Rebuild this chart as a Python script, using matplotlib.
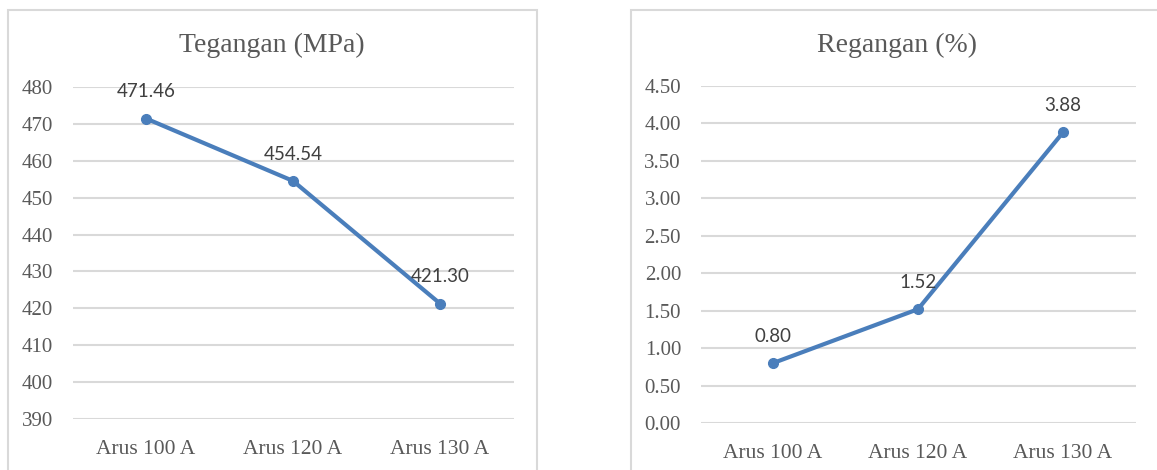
import matplotlib.pyplot as plt
from matplotlib.patches import Rectangle

# Data
kategori = ['Arus 100 A', 'Arus 120 A', 'Arus 130 A']
tegangan = [471.46, 454.54, 421.30]
regangan = [0.80, 1.52, 3.88]
yticks_tegangan = [390, 400, 410, 420, 430, 440, 450, 460, 470, 480]
ylabel_tegangan = ['390', '400', '410', '420', '430', '440', '450', '460', '470', '480']
yticks_regangan = [0.0, 0.5, 1.0, 1.5, 2.0, 2.5, 3.0, 3.5, 4.0, 4.5]
ylabel_regangan = ['0.00', '0.50', '1.00', '1.50', '2.00', '2.50', '3.00', '3.50', '4.00', '4.50']

warna = '#4A7EBB'
serif = 'Liberation Serif'

fig = plt.figure(figsize=(11.57, 4.70), dpi=100)

# bingkai panel
W, H = 1157, 470
fig.add_artist(Rectangle((8 / W, -0.05), 529 / W, 1.05 - 10 / H, transform=fig.transFigure,
                         fill=False, edgecolor='#d9d9d9', linewidth=1.5))
fig.add_artist(Rectangle((631 / W, -0.05), 0.5, 1.05 - 10 / H, transform=fig.transFigure,
                         fill=False, edgecolor='#d9d9d9', linewidth=1.5))

ax1 = fig.add_axes([72.5 / W, 1 - 419 / H, 441 / W, 332 / H])
ax2 = fig.add_axes([700.5 / W, 1 - 423 / H, 435 / W, 337 / H])


def gambar(ax, nilai, yticks, ylabels, judul, judul_x):
    x = list(range(len(kategori)))
    ax.plot(x, nilai, color=warna, linewidth=3, marker='o', markersize=7, zorder=3,
            solid_capstyle='round')
    for xi, v in zip(x, nilai):
        ax.annotate('{:.2f}'.format(v), (xi, v), xytext=(0, 13), textcoords='offset points',
                    ha='center', va='bottom', fontsize=13.5, color='#404040', family='Lato')
    ax.set_xlim(-0.5, 2.5)
    ax.set_ylim(yticks[0], yticks[-1])
    ax.set_yticks(yticks)
    ax.set_yticklabels(ylabels)
    ax.set_xticks(x)
    ax.set_xticklabels(kategori)
    ax.grid(axis='y', color='#d9d9d9', linewidth=1.5)
    ax.set_axisbelow(True)
    for s in ax.spines.values():
        s.set_visible(False)
    ax.tick_params(length=0)
    ax.tick_params(axis='y', labelsize=15, labelcolor='#595959', pad=14)
    ax.tick_params(axis='x', labelsize=15.5, labelcolor='#595959', pad=15)
    for lbl in ax.get_yticklabels() + ax.get_xticklabels():
        lbl.set_family(serif)
    fig.text(judul_x, 1 - 45 / H, judul, ha='center', va='center', fontsize=20,
             color='#595959', family=serif)


gambar(ax1, tegangan, yticks_tegangan, ylabel_tegangan, 'Tegangan (MPa)', 272 / W)
gambar(ax2, regangan, yticks_regangan, ylabel_regangan, 'Regangan (%)', 897 / W)

fig.savefig('out.png', dpi=100)
